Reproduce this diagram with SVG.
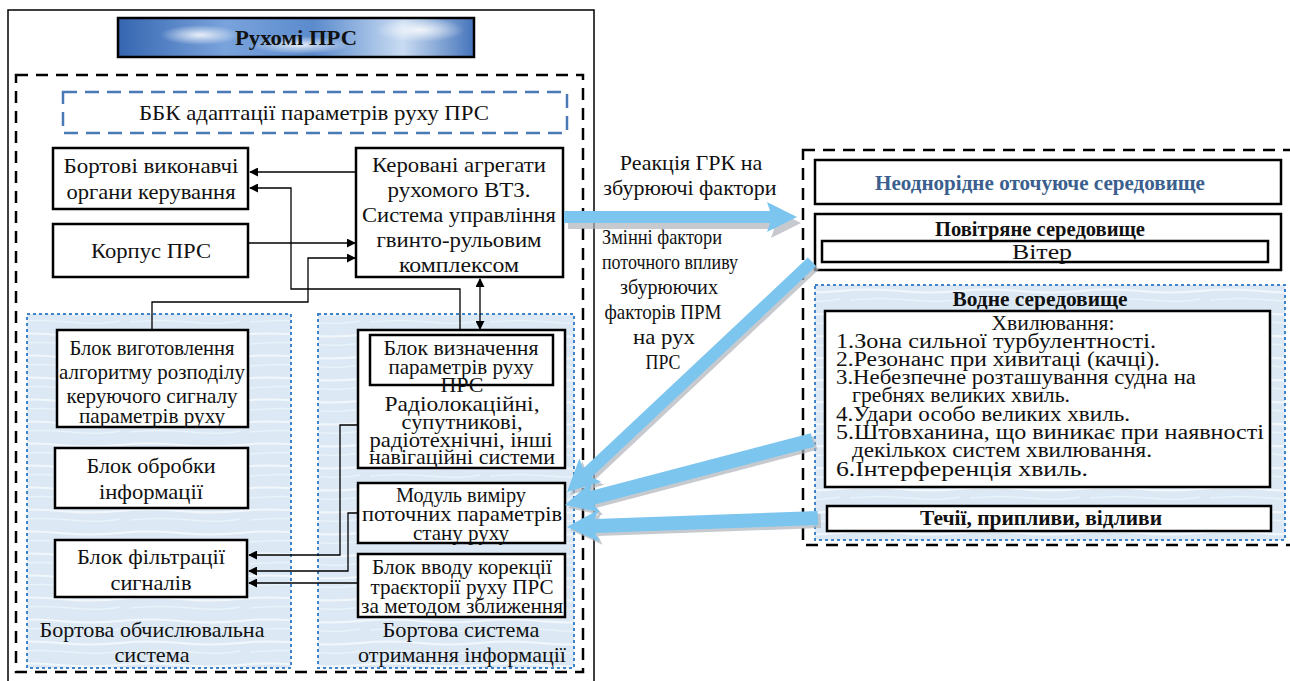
<svg xmlns="http://www.w3.org/2000/svg" width="1290" height="681" viewBox="0 0 1290 681" font-family="'Liberation Serif', 'Times New Roman', serif">
<defs>
<style>
text{font-family:'Liberation Serif','Times New Roman',serif;fill:#111;}
.t{font-size:22px;text-anchor:middle;}
.s{font-size:21px;text-anchor:middle;}
.b{font-weight:bold;}
.box{fill:#fff;stroke:#000;stroke-width:2.5;}
.ln{fill:none;stroke:#000;stroke-width:1.3;}
.bdash{fill:none;stroke:#000;stroke-width:2.5;stroke-dasharray:12 8;}
.blued{fill:none;stroke:#4a7ab5;stroke-width:2.5;stroke-dasharray:14 8;}
.dot{fill:url(#waterp);stroke:#3f84c8;stroke-width:2;stroke-dasharray:3 3;}
.arr{fill:#7cc5ef;}
.sh{fill:#aeb4ba;opacity:0.7;}
</style>
<linearGradient id="water" x1="0" y1="0" x2="0.3" y2="1">
<stop offset="0" stop-color="#e4eff8"/>
<stop offset="0.5" stop-color="#d6e7f4"/>
<stop offset="1" stop-color="#e0edf8"/>
</linearGradient>
<pattern id="waterp" x="0" y="0" width="120" height="22" patternUnits="userSpaceOnUse">
<rect width="120" height="22" fill="#dce9f5"/>
<path d="M0,5 Q30,2 60,5 T120,5" fill="none" stroke="#f2f7fc" stroke-width="2"/>
<path d="M10,14 Q40,11 70,14 T120,13" fill="none" stroke="#eaf2fa" stroke-width="1.5"/>
</pattern>
<linearGradient id="sky" x1="0" y1="0" x2="1" y2="0">
<stop offset="0" stop-color="#3566b0"/>
<stop offset="0.3" stop-color="#7aa3dc"/>
<stop offset="0.55" stop-color="#5b8bcd"/>
<stop offset="0.8" stop-color="#c9dcf2"/>
<stop offset="1" stop-color="#4574bb"/>
</linearGradient>
<radialGradient id="cloud">
<stop offset="0" stop-color="#ffffff" stop-opacity="0.85"/>
<stop offset="1" stop-color="#ffffff" stop-opacity="0"/>
</radialGradient>
<marker id="ah" viewBox="0 0 10 10" refX="9" refY="5" markerWidth="9" markerHeight="9" markerUnits="userSpaceOnUse" orient="auto-start-reverse">
<path d="M0,0 L10,5 L0,10 z" fill="#000"/>
</marker>
</defs>
<rect x="0" y="0" width="1290" height="681" fill="#fff"/>

<g id="outer">
<rect x="8" y="10" width="586" height="700" fill="none" stroke="#000" stroke-width="1.5"/>
<rect x="16" y="75" width="567" height="597" class="bdash"/>
</g>

<g id="title">
<rect x="118" y="18" width="356" height="39" fill="url(#sky)" stroke="#000" stroke-width="2.5"/>
<ellipse cx="200" cy="35" rx="40" ry="10" fill="url(#cloud)"/>
<ellipse cx="300" cy="45" rx="50" ry="9" fill="url(#cloud)"/>
<ellipse cx="420" cy="30" rx="45" ry="12" fill="url(#cloud)"/>
<text x="296" y="45" class="t b" font-size="21" textLength="122" lengthAdjust="spacingAndGlyphs">Рухомі ПРС</text>
</g>

<g id="bbk">
<rect x="63" y="92" width="504" height="41" class="blued"/>
<text x="314" y="120" class="t" textLength="350" lengthAdjust="spacingAndGlyphs">ББК адаптації параметрів руху ПРС</text>
</g>

<g id="panel-left">
<rect x="27" y="314" width="264" height="354" class="dot"/>
<text x="152" y="637" class="t" textLength="225" lengthAdjust="spacingAndGlyphs">Бортова обчислювальна</text>
<text x="152" y="662" class="t" textLength="75" lengthAdjust="spacingAndGlyphs">система</text>
</g>
<g id="panel-right">
<rect x="318" y="314" width="256" height="354" class="dot"/>
<text x="461" y="637" class="t" textLength="157" lengthAdjust="spacingAndGlyphs">Бортова система</text>
<text x="462" y="662" class="t" textLength="208" lengthAdjust="spacingAndGlyphs">отримання інформації</text>
</g>

<g id="bortovi">
<rect x="53" y="148" width="195" height="61" class="box"/>
<text x="151" y="173" class="t" textLength="175" lengthAdjust="spacingAndGlyphs">Бортові виконавчі</text>
<text x="151" y="199" class="t" textLength="169" lengthAdjust="spacingAndGlyphs">органи керування</text>
</g>
<g id="korpus">
<rect x="53" y="224" width="195" height="53" class="box"/>
<text x="151" y="258" class="t" textLength="120" lengthAdjust="spacingAndGlyphs">Корпус ПРС</text>
</g>
<g id="kerovani">
<rect x="356" y="148" width="207" height="129" class="box"/>
<text x="459" y="172" class="t" textLength="174" lengthAdjust="spacingAndGlyphs">Керовані агрегати</text>
<text x="459" y="197" class="t" textLength="143" lengthAdjust="spacingAndGlyphs">рухомого ВТЗ.</text>
<text x="459" y="222" class="t" textLength="194" lengthAdjust="spacingAndGlyphs">Система управління</text>
<text x="459" y="247" class="t" textLength="165" lengthAdjust="spacingAndGlyphs">гвинто-рульовим</text>
<text x="459" y="272" class="t" textLength="120" lengthAdjust="spacingAndGlyphs">комплексом</text>
</g>
<g id="vygot">
<rect x="57" y="330" width="191" height="97" class="box"/>
<text x="152" y="355" class="t" textLength="165" lengthAdjust="spacingAndGlyphs">Блок виготовлення</text>
<text x="152" y="379" class="t" textLength="186" lengthAdjust="spacingAndGlyphs">алгоритму розподілу</text>
<text x="152" y="403" class="t" textLength="171" lengthAdjust="spacingAndGlyphs">керуючого сигналу</text>
<text x="152" y="423" class="t" textLength="146" lengthAdjust="spacingAndGlyphs">параметрів руху</text>
</g>
<g id="obrobky">
<rect x="55" y="448" width="193" height="60" class="box"/>
<text x="151" y="473" class="t" textLength="129" lengthAdjust="spacingAndGlyphs">Блок обробки</text>
<text x="151" y="499" class="t" textLength="104" lengthAdjust="spacingAndGlyphs">інформації</text>
</g>
<g id="filtr">
<rect x="55" y="540" width="192" height="57" class="box"/>
<text x="151" y="564" class="t" textLength="148" lengthAdjust="spacingAndGlyphs">Блок фільтрації</text>
<text x="151" y="590" class="t" textLength="81" lengthAdjust="spacingAndGlyphs">сигналів</text>
</g>
<g id="vyznach">
<rect x="358" y="330" width="207" height="138" class="box"/>
<rect x="370" y="335" width="183" height="50" class="box"/>
<text x="461" y="355" class="s" textLength="155" lengthAdjust="spacingAndGlyphs">Блок визначення</text>
<text x="461" y="374" class="s" textLength="145" lengthAdjust="spacingAndGlyphs">параметрів руху</text>
<text x="462" y="392" class="s" textLength="43" lengthAdjust="spacingAndGlyphs">ПРС</text>
<text x="462" y="411" class="s" textLength="155" lengthAdjust="spacingAndGlyphs">Радіолокаційні,</text>
<text x="462" y="429" class="s" textLength="121" lengthAdjust="spacingAndGlyphs">супутникові,</text>
<text x="461" y="447" class="s" textLength="183" lengthAdjust="spacingAndGlyphs">радіотехнічні, інші</text>
<text x="462" y="464" class="s" textLength="186" lengthAdjust="spacingAndGlyphs">навігаційні системи</text>
</g>
<g id="modul">
<rect x="358" y="483" width="207" height="60" class="box"/>
<text x="461" y="502" class="s" textLength="130" lengthAdjust="spacingAndGlyphs">Модуль виміру</text>
<text x="462" y="521" class="s" textLength="200" lengthAdjust="spacingAndGlyphs">поточних параметрів</text>
<text x="461" y="540" class="s" textLength="96" lengthAdjust="spacingAndGlyphs">стану руху</text>
</g>
<g id="vvod">
<rect x="358" y="554" width="207" height="63" class="box"/>
<text x="462" y="574" class="s" textLength="180" lengthAdjust="spacingAndGlyphs">Блок вводу корекції</text>
<text x="462" y="594" class="s" textLength="183" lengthAdjust="spacingAndGlyphs">траєкторії руху ПРС</text>
<text x="462" y="613" class="s" textLength="202" lengthAdjust="spacingAndGlyphs">за методом зближення</text>
</g>

<g id="label-reaction">
<text x="691" y="170" class="t">Реакція ГРК на</text>
<text x="690" y="195" class="t">збурюючі фактори</text>
</g>
<g id="label-factors">
<text x="662" y="244" class="t" textLength="120" lengthAdjust="spacingAndGlyphs">Змінні фактори</text>
<text x="670" y="269" class="t" textLength="136" lengthAdjust="spacingAndGlyphs">поточного впливу</text>
<text x="669" y="294" class="t" textLength="98" lengthAdjust="spacingAndGlyphs">збурюючих</text>
<text x="663" y="319" class="t" textLength="117" lengthAdjust="spacingAndGlyphs">факторів ПРМ</text>
<text x="664" y="344" class="t" textLength="62" lengthAdjust="spacingAndGlyphs">на рух</text>
<text x="663" y="369" class="t" textLength="35" lengthAdjust="spacingAndGlyphs">ПРС</text>
</g>

<g id="env">
<rect x="803" y="150" width="500" height="395" class="bdash"/>
</g>
<g id="neodn">
<rect x="815" y="160" width="466" height="44" class="box"/>
<text x="1040" y="190" class="t b" style="fill:#3b5f8e" font-size="21" textLength="330" lengthAdjust="spacingAndGlyphs">Неоднорідне оточуюче середовище</text>
</g>
<g id="povitr">
<rect x="815" y="214" width="466" height="56" class="box"/>
<text x="1040" y="236" class="t b" font-size="21" textLength="210" lengthAdjust="spacingAndGlyphs">Повітряне середовище</text>
<rect x="822" y="241" width="446" height="21" class="box" stroke-width="2"/>
<text x="1042" y="259" class="t" textLength="60" lengthAdjust="spacingAndGlyphs">Вітер</text>
</g>
<g id="vodne">
<rect x="815" y="285" width="470" height="255" class="dot"/>
<text x="1040" y="306" class="t b" font-size="21" textLength="175" lengthAdjust="spacingAndGlyphs">Водне середовище</text>
</g>
<g id="khvyl">
<rect x="825" y="311" width="445" height="176" class="box"/>
<text x="1053" y="330" class="s" font-size="20" textLength="123" lengthAdjust="spacingAndGlyphs">Хвилювання:</text>
<g font-size="20">
<text x="836" y="348" textLength="320" lengthAdjust="spacingAndGlyphs">1.Зона сильної турбулентності.</text>
<text x="836" y="366" textLength="324" lengthAdjust="spacingAndGlyphs">2.Резонанс при хивитаці (качці).</text>
<text x="836" y="384" textLength="360" lengthAdjust="spacingAndGlyphs">3.Небезпечне розташування судна на</text>
<text x="852" y="402" textLength="218" lengthAdjust="spacingAndGlyphs">гребнях великих хвиль.</text>
<text x="836" y="421" textLength="294" lengthAdjust="spacingAndGlyphs">4.Удари особо великих хвиль.</text>
<text x="836" y="439" textLength="428" lengthAdjust="spacingAndGlyphs">5.Штовханина, що виникає при наявності</text>
<text x="852" y="457" textLength="300" lengthAdjust="spacingAndGlyphs">декількох систем хвилювання.</text>
<text x="836" y="476" textLength="252" lengthAdjust="spacingAndGlyphs">6.Інтерференція хвиль.</text>
</g>
</g>
<g id="techii">
<rect x="827" y="506" width="444" height="25" class="box"/>
<text x="1041" y="525" class="t b" font-size="21" textLength="242" lengthAdjust="spacingAndGlyphs">Течії, припливи, відливи</text>
</g>

<g id="connectors">
<path class="ln" d="M356,172 H250" marker-end="url(#ah)"/>
<path class="ln" d="M460,330 V289 H291 V188 H250" marker-end="url(#ah)"/>
<path class="ln" d="M248,243 H355" marker-end="url(#ah)"/>
<path class="ln" d="M152,330 V302 H308 V258 H355" marker-end="url(#ah)"/>
<path class="ln" d="M480,279 V329" marker-start="url(#ah)" marker-end="url(#ah)"/>
<path class="ln" d="M358,425 H340 V555 H249" marker-end="url(#ah)"/>
<path class="ln" d="M358,513 H348 V571 H249" marker-end="url(#ah)"/>
<path class="ln" d="M358,583 H249" marker-end="url(#ah)"/>
</g>

<g id="flow-arrows">
<g transform="translate(799,220) rotate(180)">
<polygon class="sh" points="0,0 30,-15 27,-6 233,-6 233,6 27,6 30,15" transform="translate(-2,-3)"/>
</g>
<g transform="translate(797,217) rotate(180)">
<polygon class="arr" points="0,0 30,-15 27,-6 233,-6 233,6 27,6 30,15"/>
</g>
<g transform="translate(570,495) rotate(-43.2)">
<polygon class="sh" points="0,0 32,-16 28,-6 336,-6 336,6 28,6 32,16"/>
</g>
<g transform="translate(567,492) rotate(-43.2)">
<polygon class="arr" points="0,0 32,-16 28,-6 336,-6 336,6 28,6 32,16"/>
</g>
<g transform="translate(568,508) rotate(-14.7)">
<polygon class="sh" points="0,0 32,-16 28,-7 256,-7 256,7 28,7 32,16"/>
</g>
<g transform="translate(565,505) rotate(-14.7)">
<polygon class="arr" points="0,0 32,-16 28,-7 256,-7 256,7 28,7 32,16"/>
</g>
<g transform="translate(570,530) rotate(-2.05)">
<polygon class="sh" points="0,0 32,-16 28,-7 251,-7 251,7 28,7 32,16"/>
</g>
<g transform="translate(567,527) rotate(-2.05)">
<polygon class="arr" points="0,0 32,-16 28,-7 251,-7 251,7 28,7 32,16"/>
</g>
</g>
</svg>
